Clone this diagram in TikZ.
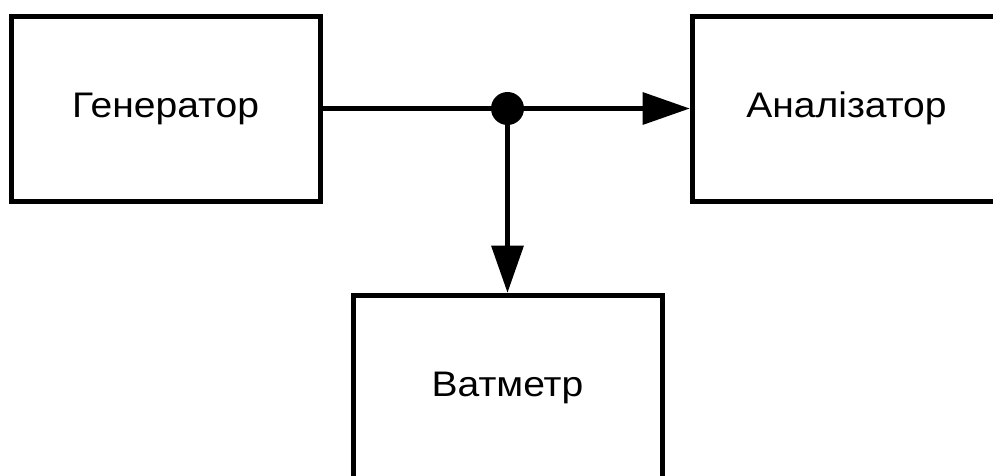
\documentclass[tikz,border=0pt]{standalone}
\usepackage{fontspec}
\setmainfont{Liberation Sans}
\newfontfamily\lblfont[FakeStretch=1.1]{Liberation Sans}
\usetikzlibrary{arrows.meta}
\begin{document}
\begin{tikzpicture}[x=1pt,y=-1pt,
  blk/.style={draw=black, line width=5pt, minimum width=309pt, minimum height=185pt, inner sep=0pt, font=\lblfont\fontsize{35.5}{42}\selectfont},
  conn/.style={line width=5pt, -{Triangle[length=47pt,width=33pt,line width=0pt]}},
  junction/.style={circle, fill=black, minimum size=33pt, inner sep=0pt}]
  \useasboundingbox (0,0) rectangle (993,475);
  \node[blk] (gen) at (165.5,108.5) {Генератор};
  \node[blk] (ana) at (846.5,108.5) {Аналізатор};
  \node[blk] (wat) at (507.5,387.5) {Ватметр};
  \coordinate (j) at (507.5,108.5);
  \draw[line width=5pt] (gen.east) -- (j);
  \draw[conn] (j) -- (ana.west);
  \draw[conn] (j) -- (j |- wat.north);
  \node[junction] (dot) at (j) {};
\end{tikzpicture}
\end{document}
